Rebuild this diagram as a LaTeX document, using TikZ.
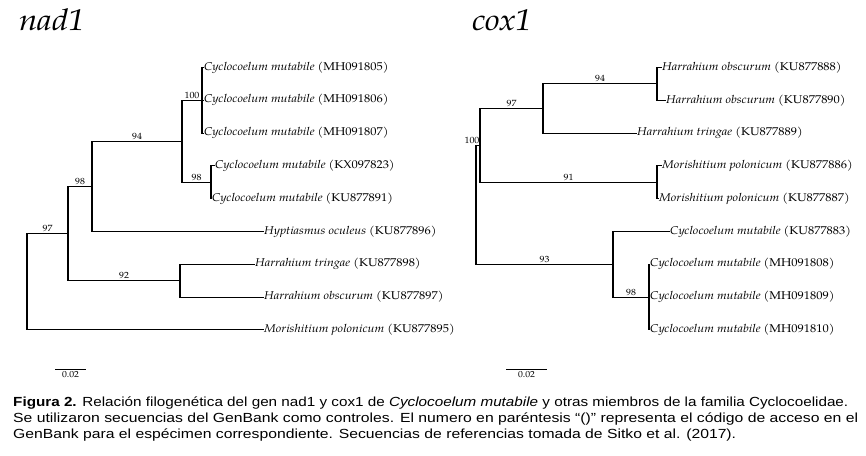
\documentclass[tikz,border=0pt]{standalone}
\usepackage{fontspec}
\newfontfamily\capfont{Liberation Sans}
\newfontfamily\pal[FakeStretch=1.1]{TeX Gyre Pagella}
\newcommand\lf[2]{\textit{#1} (#2)}
\newcommand\fitline[2]{\resizebox{#1}{\height}{#2}}
\tikzset{
  br/.style={line width=1.1pt},
  leaf/.style={anchor=west, inner sep=0pt, font=\pal\fontsize{11.3}{13}\selectfont},
  sup/.style={above, inner sep=1.3pt, font=\pal\fontsize{9}{10}\selectfont},
  ttl/.style={anchor=base west, inner sep=0pt, font=\pal\itshape\fontsize{30}{32}\selectfont},
  captxt/.style={anchor=base west, inner sep=0pt, font=\capfont\fontsize{13.2}{16}\selectfont},
  scalebar/.style={line width=0.8pt},
  scalelab/.style={below, inner sep=2pt, font=\pal\fontsize{8.8}{10}\selectfont}
}
\begin{document}
\begin{tikzpicture}[x=1pt,y=-1pt]
\fill[white] (0,0) rectangle (866,455);
\useasboundingbox (0,0) rectangle (866,455);
% titles
\node[ttl] (t1) at (19,30) {nad1};
\node[ttl] (t2) at (472,30) {cox1};
% ---------- left tree (nad1)
\coordinate (A) at (202,100.3);
\coordinate (C) at (211,182.3);
\coordinate (B) at (182,141.3);
\coordinate (D) at (92,186.4);
\coordinate (F) at (180,280.7);
\coordinate (E) at (68,233.55);
\coordinate (R) at (27,281.7);
\node[leaf] (n1) at (204,67.5) {\lf{Cyclocoelum mutabile}{MH091805}};
\node[leaf] (n2) at (204,100.3) {\lf{Cyclocoelum mutabile}{MH091806}};
\node[leaf] (n3) at (204,133.1) {\lf{Cyclocoelum mutabile}{MH091807}};
\node[leaf] (n4) at (215,165.9) {\lf{Cyclocoelum mutabile}{KX097823}};
\node[leaf] (n5) at (212,198.7) {\lf{Cyclocoelum mutabile}{KU877891}};
\node[leaf] (n6) at (264,231.5) {\lf{Hyptiasmus oculeus}{KU877896}};
\node[leaf] (n7) at (255,264.3) {\lf{Harrahium tringae}{KU877898}};
\node[leaf] (n8) at (264,297.1) {\lf{Harrahium obscurum}{KU877897}};
\node[leaf] (n9) at (264,329.9) {\lf{Morishitium polonicum}{KU877895}};
\draw[br] (A) |- (n1.west);
\draw[br] (A) |- (n2.west);
\draw[br] (A) |- (n3.west);
\draw[br] (C) |- (n4.west);
\draw[br] (C) |- (n5.west);
\draw[br] (B) |- node[sup,pos=.75]{100} (A);
\draw[br] (B) |- node[sup,pos=.75]{98} (C);
\draw[br] (D) |- node[sup,pos=.75]{94} (B);
\draw[br] (D) |- (n6.west);
\draw[br] (F) |- (n7.west);
\draw[br] (F) |- (n8.west);
\draw[br] (E) |- node[sup,pos=.75]{98} (D);
\draw[br] (E) |- node[sup,pos=.75]{92} (F);
\draw[br] (R) |- node[sup,pos=.75]{97} (E);
\draw[br] (R) |- (n9.west);
\coordinate (s1a) at (55,369);
\coordinate (s1b) at (86,369);
\draw[scalebar] (s1a) -- node[scalelab]{0.02} (s1b);
% ---------- right tree (cox1)
\coordinate (J) at (657,83.9);
\coordinate (I) at (543,108.5);
\coordinate (K) at (657,182.3);
\coordinate (G) at (480,145.4);
\coordinate (L) at (649,297.1);
\coordinate (H) at (613,264.3);
\coordinate (R2) at (476,204.85);
\node[leaf] (m1) at (662,67.5) {\lf{Harrahium obscurum}{KU877888}};
\node[leaf] (m2) at (666,100.3) {\lf{Harrahium obscurum}{KU877890}};
\node[leaf] (m3) at (637,133.1) {\lf{Harrahium tringae}{KU877889}};
\node[leaf] (m4) at (662,165.9) {\lf{Morishitium polonicum}{KU877886}};
\node[leaf] (m5) at (659,198.7) {\lf{Morishitium polonicum}{KU877887}};
\node[leaf] (m6) at (670,231.5) {\lf{Cyclocoelum mutabile}{KU877883}};
\node[leaf] (m7) at (650,264.3) {\lf{Cyclocoelum mutabile}{MH091808}};
\node[leaf] (m8) at (650,297.1) {\lf{Cyclocoelum mutabile}{MH091809}};
\node[leaf] (m9) at (650,329.9) {\lf{Cyclocoelum mutabile}{MH091810}};
\draw[br] (J) |- (m1.west);
\draw[br] (J) |- (m2.west);
\draw[br] (I) |- node[sup,pos=.75]{94} (J);
\draw[br] (I) |- (m3.west);
\draw[br] (K) |- (m4.west);
\draw[br] (K) |- (m5.west);
\draw[br] (G) |- node[sup,pos=.75]{97} (I);
\draw[br] (G) |- node[sup,pos=.75]{91} (K);
\draw[br] (L) |- (m7.west);
\draw[br] (L) |- (m8.west);
\draw[br] (L) |- (m9.west);
\draw[br] (H) |- (m6.west);
\draw[br] (H) |- node[sup,pos=.75]{98} (L);
\draw[br] (R2) |- node[sup,pos=.75,xshift=-6pt]{100} (G);
\draw[br] (R2) |- node[sup,pos=.75]{93} (H);
\coordinate (s2a) at (506,369);
\coordinate (s2b) at (547,369);
\draw[scalebar] (s2a) -- node[scalelab]{0.02} (s2b);
% ---------- caption
\node[captxt] (c1) at (13,406.7) {\fitline{835pt}{\textbf{Figura 2.} Relación filogenética del gen nad1 y cox1 de \textit{Cyclocoelum mutabile} y otras miembros de la familia Cyclocoelidae.}};
\node[captxt] (c2) at (13,422.6) {\fitline{845pt}{Se utilizaron secuencias del GenBank como controles. El numero en paréntesis “()” representa el código de acceso en el}};
\node[captxt] (c3) at (13,438.4) {\fitline{723pt}{GenBank para el espécimen correspondiente. Secuencias de referencias tomada de Sitko et al. (2017).}};
\end{tikzpicture}
\end{document}
